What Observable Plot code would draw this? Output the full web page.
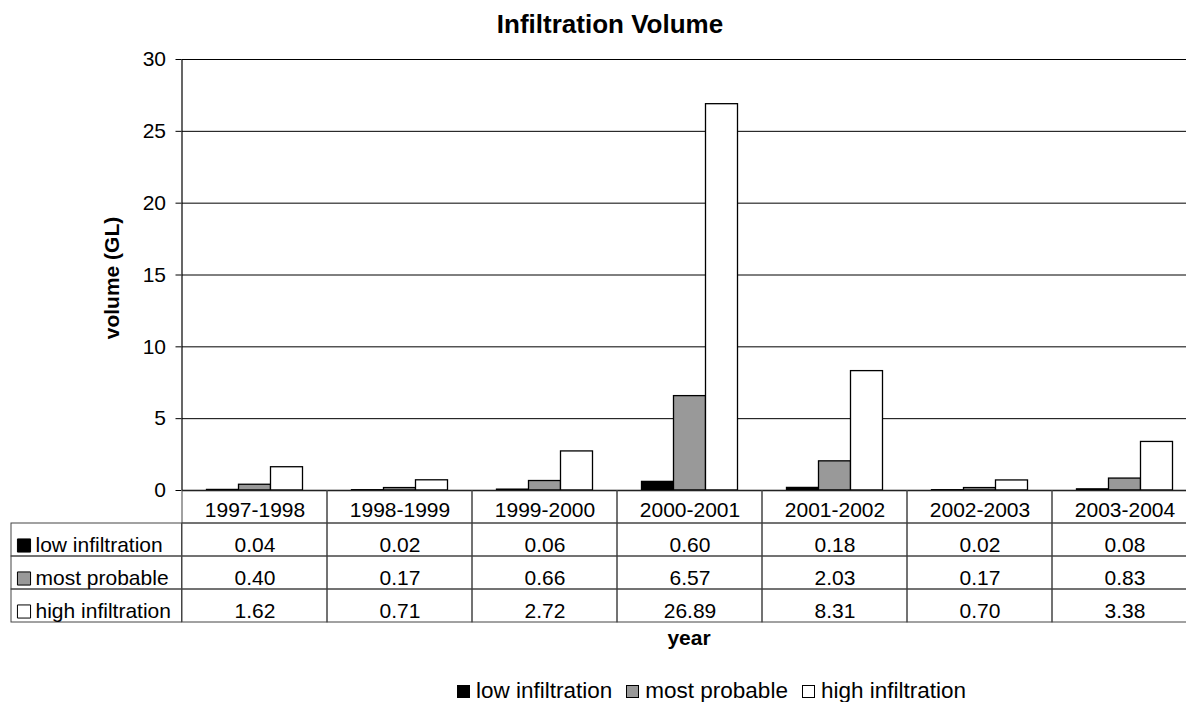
<!DOCTYPE html>
<html>
<head>
<meta charset="utf-8">
<script src="https://cdn.jsdelivr.net/npm/d3@7"></script>
<script src="https://cdn.jsdelivr.net/npm/@observablehq/plot@0.6"></script>
<style>
  html, body { margin: 0; padding: 0; background: #fff; overflow: hidden; }
  #chart { position: relative; width: 1186px; height: 702px; overflow: hidden; font-family: "Liberation Sans", Arial, sans-serif; color: #000; }
  .abs { position: absolute; }
  .ctr { position: absolute; transform: translate(-50%, -50%); line-height: 1; white-space: nowrap; }
  .legend { position: absolute; display: flex; align-items: center; font-size: 22.5px; line-height: 1; white-space: nowrap; }
  .legend .sw { display: inline-block; width: 11px; height: 11px; border: 1px solid #000; margin-right: 6px; }
  .legend .item { display: flex; align-items: center; margin-right: 14px; }
</style>
</head>
<body>
<div id="chart"></div>
<script>
// ---- data ----
const years = ["1997-1998", "1998-1999", "1999-2000", "2000-2001", "2001-2002", "2002-2003", "2003-2004"];
const series = ["low infiltration", "most probable", "high infiltration"];
const lowInfiltration  = [0.04, 0.02, 0.06, 0.60, 0.18, 0.02, 0.08];
const mostProbable     = [0.40, 0.17, 0.66, 6.57, 2.03, 0.17, 0.83];
const highInfiltration = [1.62, 0.71, 2.72, 26.89, 8.31, 0.70, 3.38];
const seriesColors = ["#000000", "#999999", "#ffffff"];
const yTicks = [0, 5, 10, 15, 20, 25, 30];

const values = [lowInfiltration, mostProbable, highInfiltration];
const data = [];
series.forEach((s, si) => years.forEach((y, yi) => data.push({year: y, series: s, value: values[si][yi]})));
const headerKey = "header";
const rowKeys = [headerKey, ...series];
const cells = [];
years.forEach(y => rowKeys.forEach(r => cells.push({year: y, row: r})));

const FONT = "Liberation Sans, Arial, sans-serif";
const baseStyle = {fontFamily: FONT, fontSize: "21px", background: "transparent", maxWidth: "none", color: "#000", overflow: "hidden"};
const chart = document.getElementById("chart");
function place(node, left, top) {
  const d = document.createElement("div");
  d.className = "abs";
  d.style.left = left + "px";
  d.style.top = top + "px";
  d.appendChild(node);
  chart.appendChild(d);
}

// ---- bars ----
const bars = Plot.plot({
  width: 1186, height: 500,
  marginTop: 59, marginBottom: 10, marginLeft: 181.5, marginRight: -11,
  style: baseStyle,
  fx: {domain: years, padding: 0, axis: null, label: null},
  x: {domain: series, paddingInner: 0, paddingOuter: 0.73, axis: null},
  y: {domain: [0, 30], axis: null},
  color: {domain: series, range: seriesColors},
  marks: [
    Plot.ruleY(yTicks.filter(t => t > 0), {stroke: "#000", strokeWidth: 1}),
    Plot.barY(data, {fx: "year", x: "series", y: "value", fill: "series", stroke: "#000", strokeWidth: 1.3}),
    Plot.ruleY([0], {stroke: "#000", strokeWidth: 1.5})
  ]
});
place(bars, 0, 0);

// ---- y axis ----
const axis = Plot.plot({
  width: 186, height: 500,
  marginTop: 59, marginBottom: 10, marginLeft: 181.5, marginRight: 4.5,
  style: baseStyle,
  x: {domain: [0, 1], axis: null},
  y: {domain: [0, 30], axis: null},
  marks: [
    Plot.axisY(yTicks, {tickSize: 6, tickPadding: 10, fontSize: 21, label: null, stroke: "#000", fill: "#000"}),
    Plot.ruleX([0], {stroke: "#000", strokeWidth: 1.2})
  ]
});
place(axis, 0, 0);

// ---- data table ----
const table = Plot.plot({
  width: 1186, height: 133,
  marginTop: 0, marginBottom: 1, marginLeft: 181.5, marginRight: -11,
  style: baseStyle,
  x: {domain: years, padding: 0, axis: null},
  y: {domain: rowKeys, padding: 0, axis: null},
  marks: [
    Plot.cell(cells, {x: "year", y: "row", fill: "none", stroke: "#444", strokeWidth: 1, inset: 0}),
    Plot.text(years, {x: d => d, y: () => headerKey, text: d => d, fontSize: 21, fill: "#000", dy: 3}),
    Plot.text(data, {x: "year", y: "series", text: d => d.value.toFixed(2), fontSize: 21, fill: "#000", dy: 5})
  ]
});
place(table, 0, 490);

// ---- table row labels ----
const labels = Plot.plot({
  width: 182, height: 133,
  marginTop: 0, marginBottom: 1, marginLeft: 11, marginRight: 0.5,
  style: baseStyle,
  y: {domain: rowKeys, padding: 0, axis: null},
  color: {domain: series, range: seriesColors},
  marks: [
    Plot.cell(series, {y: d => d, fill: "none", stroke: "#444", strokeWidth: 1, inset: 0}),
    Plot.dot(series, {y: d => d, frameAnchor: "left", dx: 12.5, dy: 5.5, symbol: "square", r: 7.4, fill: d => d, stroke: "#000", strokeWidth: 1}),
    Plot.text(series, {y: d => d, frameAnchor: "left", dx: 24, dy: 5, textAnchor: "start", text: d => d, fontSize: 21, fill: "#000"})
  ]
});
place(labels, 0, 490);

// ---- texts ----
function addText(txt, x, y, css, rotate) {
  const d = document.createElement("div");
  d.className = "ctr";
  d.textContent = txt;
  d.style.left = x + "px";
  d.style.top = y + "px";
  Object.assign(d.style, css);
  if (rotate) d.style.transform = "translate(-50%, -50%) rotate(-90deg)";
  chart.appendChild(d);
}
addText("Infiltration Volume", 610, 24, {fontSize: "26px", fontWeight: "bold"});
addText("volume (GL)", 111, 278, {fontSize: "21px", fontWeight: "bold"}, true);
addText("year", 689, 637, {fontSize: "21px", fontWeight: "bold"});

// ---- legend ----
const lg = document.createElement("div");
lg.className = "legend";
lg.style.left = "457px";
lg.style.top = "679px";
lg.style.height = "24px";
series.forEach((s, i) => {
  const it = document.createElement("span");
  it.className = "item";
  if (i === series.length - 1) it.style.marginRight = "0";
  const sw = document.createElement("span");
  sw.className = "sw";
  sw.style.background = seriesColors[i];
  const t = document.createElement("span");
  t.textContent = s;
  it.appendChild(sw);
  it.appendChild(t);
  lg.appendChild(it);
});
chart.appendChild(lg);
</script>
</body>
</html>
